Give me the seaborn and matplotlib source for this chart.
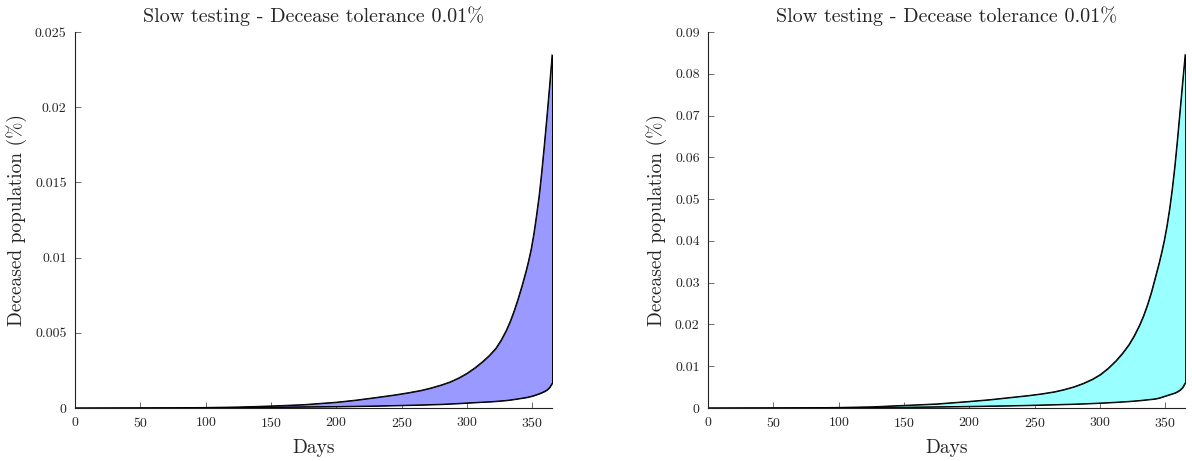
import pandas as pd
import numpy as np
import matplotlib
matplotlib.use('Agg')
import matplotlib.pyplot as plt
import seaborn as sns
from matplotlib.ticker import FuncFormatter

# ── Data ─────────────────────────────────────────────────────────────────────
days = [0, 25, 50, 75, 100, 125, 150, 175, 200, 215, 230, 245, 255, 265, 272,
        280, 287, 294, 300, 306, 312, 317, 322, 326, 330, 333, 336, 339, 342,
        345, 347, 349, 351, 353, 355, 357, 359, 361, 363, 365]

left_upper = [0, 0.000005, 0.00001, 0.00002, 0.00004, 0.00007, 0.00014, 0.00023,
              0.00039, 0.00053, 0.00070, 0.00088, 0.00102, 0.00118, 0.00133,
              0.00153, 0.00174, 0.00202, 0.00232, 0.00268, 0.00310, 0.00350,
              0.00398, 0.00452, 0.00518, 0.00578, 0.00648, 0.00728, 0.00815,
              0.00910, 0.00980, 0.01060, 0.01160, 0.01280, 0.01410, 0.01570,
              0.01750, 0.01940, 0.02140, 0.02350]
left_lower = [0, 0.000002, 0.000005, 0.00001, 0.00002, 0.00004, 0.00006, 0.00008,
              0.0001, 0.00012, 0.00014, 0.00017, 0.00019, 0.00021, 0.00023,
              0.00025, 0.00028, 0.00031, 0.00034, 0.00037, 0.0004, 0.00042,
              0.00045, 0.00048, 0.00051, 0.00054, 0.00058, 0.00062, 0.00066,
              0.0007, 0.00074, 0.00078, 0.00083, 0.00089, 0.00095, 0.00102,
              0.0011, 0.0012, 0.00136, 0.00164]

right_upper = [0, 0.00002, 0.00004, 0.00008, 0.00015, 0.0003, 0.00065, 0.001,
               0.0016, 0.0020, 0.0025, 0.0030, 0.0034, 0.0039, 0.0044, 0.0051,
               0.0059, 0.0069, 0.0080, 0.0095, 0.0113, 0.0131, 0.0152, 0.0173,
               0.0198, 0.0220, 0.0246, 0.0276, 0.0311, 0.0347, 0.0373, 0.0402,
               0.0436, 0.0476, 0.0523, 0.0578, 0.0642, 0.0711, 0.0780, 0.0847]
right_lower = [0, 0.00001, 0.00002, 0.00004, 0.00007, 0.00012, 0.0002, 0.0003,
               0.0004, 0.00048, 0.00056, 0.00066, 0.00074, 0.00082, 0.00088,
               0.00095, 0.00103, 0.00112, 0.0012, 0.0013, 0.0014, 0.0015, 0.0016,
               0.0017, 0.0018, 0.0019, 0.002, 0.0021, 0.0022, 0.0024, 0.0026,
               0.0028, 0.003, 0.0032, 0.0034, 0.0036, 0.0039, 0.0043, 0.0049,
               0.006]

x_ticks = [0, 50, 100, 150, 200, 250, 300, 350]
left_yticks = [0, 0.005, 0.01, 0.015, 0.02, 0.025]
right_yticks = [0, 0.01, 0.02, 0.03, 0.04, 0.05, 0.06, 0.07, 0.08, 0.09]

title = 'Slow testing - Decease tolerance 0.01%'

# ── Style ────────────────────────────────────────────────────────────────────
sns.set_style('ticks')
plt.rcParams['font.family'] = ['cmr10', 'DejaVu Serif']
plt.rcParams['axes.formatter.use_mathtext'] = True
plt.rcParams['mathtext.fontset'] = 'cm'

fig = plt.figure(figsize=(11.92, 4.61), dpi=100)
ax1 = fig.add_axes([0.0629, 0.115, 0.4002, 0.8156])
ax2 = fig.add_axes([0.594, 0.115, 0.4002, 0.8156])

panels = [
    (ax1, left_upper, left_lower, '#9999ff', left_yticks, 0.025),
    (ax2, right_upper, right_lower, '#99ffff', right_yticks, 0.09),
]

for ax, upper, lower, fill, yticks, ymax in panels:
    df = pd.DataFrame({'day': days, 'upper': upper, 'lower': lower})
    ax.fill_between(df['day'], df['lower'], df['upper'],
                    facecolor=fill, edgecolor='black', linewidth=0.7)
    sns.lineplot(data=df, x='day', y='upper', ax=ax, color='black', linewidth=0.7)
    sns.lineplot(data=df, x='day', y='lower', ax=ax, color='black', linewidth=0.7)
    ax.set_xlim(0, 365)
    ax.set_ylim(0, ymax)
    ax.set_xticks(x_ticks)
    ax.set_yticks(yticks)
    ax.yaxis.set_major_formatter(FuncFormatter(lambda v, p: f'{v:g}'))
    ax.tick_params(direction='in', length=4, width=0.6, color='#555555',
                   labelsize=10, pad=6)
    ax.set_title(title, fontsize=14.5, pad=7)
    ax.set_xlabel('Days', fontsize=14, labelpad=6)
    ax.set_ylabel('Deceased population (%)', fontsize=14, labelpad=6)
    for side in ['top', 'right']:
        ax.spines[side].set_visible(False)
    for side in ['left', 'bottom']:
        ax.spines[side].set_linewidth(0.8)
        ax.spines[side].set_color('#222222')

fig.savefig('out.png', dpi=100)
